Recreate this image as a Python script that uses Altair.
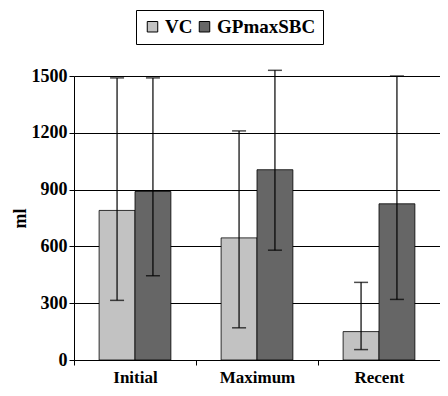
import altair as alt
import pandas as pd

categories = ["Initial", "Maximum", "Recent"]
series = ["VC", "GPmaxSBC"]
vc_mean = [790, 645, 150]
vc_lo = [315, 170, 55]
vc_hi = [1490, 1210, 410]
gp_mean = [890, 1005, 825]
gp_lo = [445, 580, 320]
gp_hi = [1490, 1530, 1500]

rows = []
for i, c in enumerate(categories):
    rows.append({"cat": c, "series": "VC", "mean": vc_mean[i], "lo": vc_lo[i], "hi": vc_hi[i]})
    rows.append({"cat": c, "series": "GPmaxSBC", "mean": gp_mean[i], "lo": gp_lo[i], "hi": gp_hi[i]})
df = pd.DataFrame(rows)

FONT = "Liberation Serif"

x = alt.X("cat:N", sort=categories, title=None,
          scale=alt.Scale(paddingInner=0, paddingOuter=0),
          axis=alt.Axis(labelAngle=0, tickBand="extent", labelFont=FONT, labelFontSize=17,
                        labelFontWeight="bold", labelColor="black", domainColor="black",
                        tickColor="black", tickSize=5, labelPadding=4, labelBaseline="top",
                        grid=False))
xo = alt.XOffset("series:N", sort=series,
                 scale=alt.Scale(paddingInner=0, paddingOuter=0.7))
color = alt.Color("series:N", sort=series, title=None,
                  scale=alt.Scale(domain=series, range=["#c2c2c2", "#666666"]),
                  legend=alt.Legend(orient="none", legendX=62, legendY=-66, direction="horizontal",
                                    symbolType="square", symbolSize=110, symbolStrokeColor="black",
                                    symbolStrokeWidth=1, symbolOpacity=1,
                                    labelFont=FONT, labelFontSize=19, labelFontWeight="bold",
                                    labelColor="black", strokeColor="black", padding=7,
                                    columnPadding=2, labelOffset=3))

y = alt.Y("mean:Q", title="ml",
          scale=alt.Scale(domain=[0, 1500], nice=False),
          axis=alt.Axis(values=[0, 300, 600, 900, 1200, 1500], format="d", labelFont=FONT,
                        labelFontSize=18, labelFontWeight="bold", labelColor="black",
                        titleFont=FONT, titleFontSize=18, titleFontWeight="bold",
                        titleColor="black", domainColor="black", tickColor="black", tickSize=5,
                        labelPadding=2, gridColor="black", gridWidth=1, titlePadding=2))

base = alt.Chart(df)
bars = base.mark_bar(stroke="black", strokeWidth=0.8, opacity=1).encode(
    x=x, xOffset=xo, y=y, color=color)
rules = base.mark_rule(color="black", strokeWidth=1.2, clip=False).encode(
    x=alt.X("cat:N", sort=categories), xOffset=xo, y="lo:Q", y2="hi:Q")
cap_hi = base.mark_tick(color="black", thickness=1.5, size=14, clip=False).encode(
    x=alt.X("cat:N", sort=categories), xOffset=xo, y="hi:Q")
cap_lo = base.mark_tick(color="black", thickness=1.5, size=14, clip=False).encode(
    x=alt.X("cat:N", sort=categories), xOffset=xo, y="lo:Q")

chart = alt.layer(bars, rules, cap_hi, cap_lo).properties(
    width=366, height=284,
    autosize=alt.AutoSizeParams(type="none"),
    padding={"left": 66, "top": 68, "right": 0, "bottom": 28},
).configure_view(stroke=None).configure(background="white", font=FONT)

chart.save("out.html", embed_options={"renderer": "svg", "actions": False})
